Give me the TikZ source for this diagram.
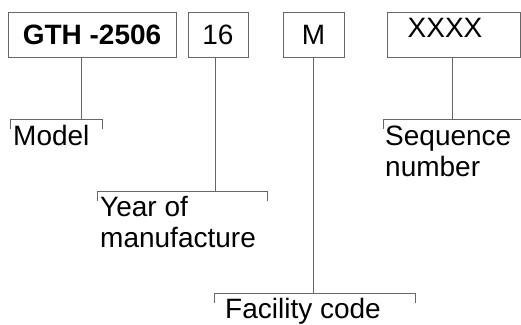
\documentclass[tikz,border=0pt]{standalone}
\usepackage{fontspec}
\setmainfont{Liberation Sans}
\usetikzlibrary{positioning}
\definecolor{rulegray}{HTML}{666666}

\begin{document}
\begin{tikzpicture}[x=1pt, y=-1pt,
  field/.style={rectangle, draw=rulegray, line width=0.9pt, minimum height=45pt,
    inner sep=0pt, font=\fontsize{28}{32}\selectfont},
  caption/.style={anchor=north west, inner sep=0pt, align=left,
    font=\fontsize{28}{31}\selectfont},
  lead/.style={draw=rulegray, line width=0.9pt},
]
  \useasboundingbox (0,0) rectangle (521,324);

  % code fields
  \node[field, minimum width=168pt, font=\fontsize{28}{32}\selectfont\bfseries] (model) at (92,34.5) {GTH -2506};
  \node[field, minimum width=60pt] (year) at (218,34.5) {16};
  \node[field, minimum width=61pt] (facility) at (313.5,34.5) {M};
  \node[field, minimum width=133pt, text height=20pt, text depth=15pt] (sequence) at (453.5,34.5) {XXXX\hspace*{17pt}};

  % brackets under the fields
  \coordinate (modelL) at (10,119);   \coordinate (modelR) at (102,119);
  \coordinate (yearL) at (97,191);    \coordinate (yearR) at (267,191);
  \coordinate (facL) at (214,293);    \coordinate (facR) at (415,293);
  \coordinate (seqL) at (383,119);    \coordinate (seqR) at (530,119);
  \foreach \b in {model,year,fac,seq}
    \draw[lead] ([yshift=-10pt]\b L) -- (\b L) -- (\b R) -- ([yshift=-10pt]\b R);

  % leads from fields to brackets
  \coordinate (modelT) at (81,119);
  \coordinate (yearT) at (215,191);
  \coordinate (seqT) at (452,119);
  \draw[lead] (modelT |- model.south) -- (modelT);
  \draw[lead] (yearT |- year.south) -- (yearT);
  \draw[lead] (facility.south) -- (facility.south |- facL);
  \draw[lead] (seqT |- sequence.south) -- (seqT);

  % captions
  \node[caption] (modeltext) at (13,125) {Model};
  \node[caption] (yeartext) at (100,196) {Year of\\manufacture};
  \node[caption] (factext) at (225,298) {Facility code};
  \node[caption] (seqtext) at (385,126) {Sequence\\number};
\end{tikzpicture}
\end{document}
